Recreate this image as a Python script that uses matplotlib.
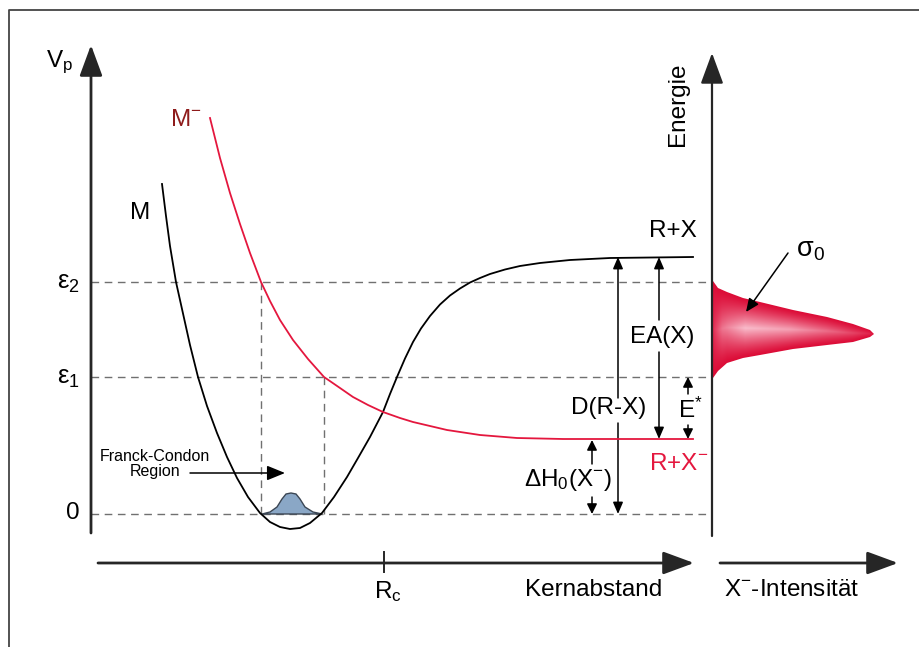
import numpy as np
import matplotlib
matplotlib.use("Agg")
import matplotlib.pyplot as plt
from matplotlib.patches import Polygon, FancyArrowPatch
from matplotlib.colors import to_rgb

plt.rcParams['font.family'] = ['Liberation Sans', 'DejaVu Sans']
plt.rcParams['mathtext.fontset'] = 'custom'
plt.rcParams['mathtext.rm'] = 'Liberation Sans'
plt.rcParams['mathtext.it'] = 'Liberation Sans'
plt.rcParams['mathtext.default'] = 'regular'

# energy levels (drawing units, y grows downward)
lvl_0, lvl_e1, lvl_e2 = 514, 377, 282
lvl_rx, lvl_rxneg = 257, 439
r_left, r_right = 91, 712         # energy axes
r_fc1, r_fc2, r_c = 261, 324, 384  # Franck-Condon bounds, crossing point

# neutral potential M
m_x = [162, 166, 170, 176, 184, 190, 198, 207, 217, 227, 237, 248, 260, 270, 280, 290,
       300, 310, 322, 334, 347, 358, 370, 383, 390, 397, 405, 413, 421, 430, 440, 450,
       460, 470, 480, 490, 505, 520, 540, 570, 610, 693]
m_y = [184, 216, 246, 282, 318, 345, 377, 406, 433, 457, 478, 497, 513, 522, 527, 529,
       528, 523, 513, 497, 477, 458, 437, 412, 394, 377, 358.5, 342, 328.5, 316, 304.5, 295.5,
       288.5, 282.5, 278, 274, 269.5, 266, 263, 260, 258, 257]

# anion potential M-
mn_x = [210, 220, 230, 240, 250, 261, 270, 280, 293, 308, 324, 340, 353, 368, 383, 400,
        413, 430, 447, 480, 517, 563, 620, 693]
mn_y = [118, 158, 193, 224, 253, 282, 301, 320, 340, 359, 377, 388, 397, 405, 412, 418,
        422, 426, 430, 435, 438, 439, 439, 439]

# vibrational wave packet
wp_x = [262, 270, 277, 282, 286, 291, 296, 300, 305, 313, 322]
wp_y = [514, 512, 507, 499, 494, 493, 494, 499, 507, 512, 514]

# X- intensity lobe
lobe_x = [713, 718, 727, 743, 760, 793, 827, 853, 870, 874]
lobe_top = [281, 288, 292, 298, 302, 310, 317, 324, 330, 334]
lobe_bot = [378, 371, 363, 358, 355, 349, 345, 342, 337, 334]

red = '#e4173e'
dark_red = '#8e1b1b'
grey = '#707070'
axis_col = '#262626'

fig = plt.figure(figsize=(9.19, 6.47), dpi=100)
ax = fig.add_axes([0, 0, 1, 1])
ax.set_xlim(0, 919)
ax.set_ylim(647, 0)
ax.axis('off')


def arrow(x0, y0, x1, y1, hl, hw, lw, color='k', z=3):
    ax.add_patch(FancyArrowPatch((x0, y0), (x1, y1),
                                 arrowstyle=f'-|>,head_length={hl},head_width={hw}',
                                 mutation_scale=1, lw=lw, color=color,
                                 shrinkA=0, shrinkB=0, zorder=z))


# frame
ax.plot([9, 9, 919], [647, 10, 10], color='#444444', lw=1.3)

# dashed guide lines
dash = (0, (5.5, 4.0))
ax.hlines([lvl_0, lvl_e1, lvl_e2], r_left, r_right, colors=grey, lw=1.0, linestyles=dash)
ax.vlines(r_fc1, lvl_e2, lvl_0, colors=grey, lw=1.0, linestyles=dash)
ax.vlines(r_fc2, lvl_e1, lvl_0, colors=grey, lw=1.0, linestyles=dash)

# axes
arrow(r_left, 533, r_left, 45, 19, 7, 2.0, axis_col)
arrow(r_right, 536, r_right, 53, 19, 7, 1.6, axis_col)
arrow(98, 563, 694, 563, 19, 7, 2.0, axis_col)
arrow(720, 563, 898, 563, 19, 7, 2.0, axis_col)
ax.plot([r_c, r_c], [552, 572], color=axis_col, lw=1.4)

# curves
ax.plot(m_x, m_y, color='black', lw=1.3, zorder=4)
ax.plot(mn_x, mn_y, color=red, lw=1.3, zorder=4)

# wave packet
ax.fill(wp_x, wp_y, facecolor='#8aa7c6', edgecolor='#3b4654', lw=1.0, zorder=3)

# intensity lobe with gradient
poly_xy = list(zip(lobe_x, lobe_top)) + list(zip(lobe_x[::-1], lobe_bot[::-1]))
lobe = Polygon(poly_xy, closed=True, facecolor='none', edgecolor='none')
ax.add_patch(lobe)
gx = np.linspace(712, 876, 240)
gy = np.linspace(278, 382, 160)
GX, GY = np.meshgrid(gx, gy)
cen = np.interp(GX, lobe_x, (np.array(lobe_top) + np.array(lobe_bot)) / 2)
hw = np.interp(GX, lobe_x, (np.array(lobe_bot) - np.array(lobe_top)) / 2) + 1e-6
t = np.clip(np.abs(GY - cen) / hw, 0, 1)
fx = np.interp(GX, [712, 722, 745, 790, 840, 876], [0.15, 0.6, 1.0, 0.85, 0.45, 0.1])
w = (1 - t) ** 1.3 * fx
c_edge = np.array(to_rgb('#dc0c37'))
c_mid = np.array(to_rgb('#f9bccb'))
img = c_edge * (1 - w[..., None]) + c_mid * w[..., None]
im = ax.imshow(img, extent=(712, 876, 382, 278), origin='upper', aspect='auto',
               interpolation='bilinear', zorder=2)
im.set_clip_path(lobe)
ax.set_xlim(0, 919)
ax.set_ylim(647, 0)

# energy arrows
arrow(618, 398, 618, lvl_rx, 7, 3, 1.1)
arrow(618, 423, 618, lvl_0, 7, 3, 1.1)
arrow(659, 320, 659, lvl_rx, 7, 3, 1.1)
arrow(659, 352, 659, lvl_rxneg, 7, 3, 1.1)
arrow(592, 464, 592, lvl_rxneg + 1, 6, 3, 1.1)
arrow(592, 497, 592, lvl_0, 6, 3, 1.1)
arrow(688, 394, 688, lvl_e1, 6, 3, 1.1)
arrow(688, 425, 688, lvl_rxneg, 6, 3, 1.1)
arrow(788, 253, 746, 312, 8, 3.5, 1.1)
arrow(190, 473, 285, 473, 11, 4.5, 1.1)

# labels
fs = 17.5
ax.text(60, 62, r'$V_p$', fontsize=fs, ha='center', va='center')
ax.text(678, 104, 'Energie', fontsize=fs, rotation=90, ha='center', va='center')
ax.text(140, 213, 'M', fontsize=fs, ha='center', va='center')
ax.text(186, 120, r'$M^{-}$', fontsize=fs, ha='center', va='center', color=dark_red)
ax.text(673, 231, 'R+X', fontsize=fs, ha='center', va='center')
ax.text(679, 464, r'$R{+}X^{-}$', fontsize=fs, ha='center', va='center', color=red)
ax.text(662, 337, 'EA(X)', fontsize=fs, ha='center', va='center')
ax.text(609, 408, 'D(R-X)', fontsize=fs, ha='center', va='center')
ax.text(690, 410, r'$E^{*}$', fontsize=fs, ha='center', va='center')
ax.text(568, 480, r'$\Delta H_0(X^{-})$', fontsize=fs, ha='center', va='center')
ax.text(810, 250, r'$\sigma_0$', fontsize=fs + 2, ha='center', va='center',
        math_fontfamily='stix')
ax.text(80, 283, r'$\varepsilon_2$', fontsize=fs + 1, ha='right', va='center',
        math_fontfamily='stix')
ax.text(80, 378, r'$\varepsilon_1$', fontsize=fs + 1, ha='right', va='center',
        math_fontfamily='stix')
ax.text(80, 513, '0', fontsize=fs, ha='right', va='center')
ax.text(155, 464, 'Franck-Condon\nRegion', fontsize=11.5, ha='center', va='center',
        linespacing=1.05)
ax.text(388, 592, r'$R_c$', fontsize=fs, ha='center', va='center')
ax.text(594, 590, 'Kernabstand', fontsize=fs, ha='center', va='center')
ax.text(792, 590, r'$X^{-}$-Intensität', fontsize=fs, ha='center', va='center')

fig.savefig('out.png', dpi=100)
